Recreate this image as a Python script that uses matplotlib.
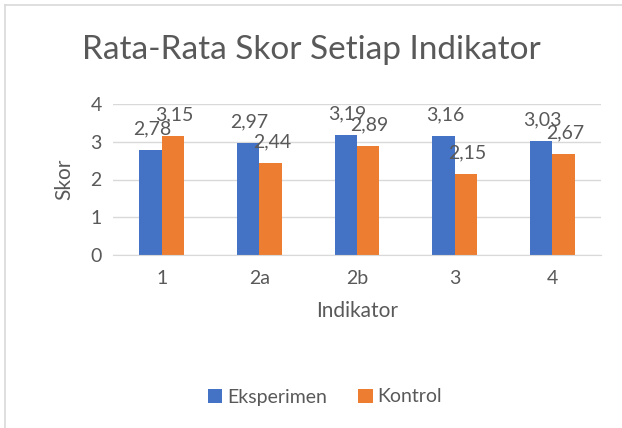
import numpy as np
import matplotlib.pyplot as plt

categories = ['1', '2a', '2b', '3', '4']
eksperimen = [2.78, 2.97, 3.19, 3.16, 3.03]
kontrol = [3.15, 2.44, 2.89, 2.15, 2.67]

BLUE = '#4472C4'
ORANGE = '#ED7D31'
GRAY = '#595959'


def main():
    plt.rcParams['font.family'] = ['Lato', 'DejaVu Sans']
    fig = plt.figure(figsize=(6.22, 4.28), dpi=100)
    ax = fig.add_axes([113 / 622, 1 - 255 / 428, 488 / 622, 151 / 428])

    x = np.arange(len(categories))
    w = 0.23
    b1 = ax.bar(x - w / 2, eksperimen, w, color=BLUE, label='Eksperimen')
    b2 = ax.bar(x + w / 2, kontrol, w, color=ORANGE, label='Kontrol')

    for bars in (b1, b2):
        for r in bars:
            v = r.get_height()
            ax.annotate(f'{v:.2f}'.replace('.', ','),
                        (r.get_x() + r.get_width() / 2, v),
                        xytext=(1, 9), textcoords='offset points',
                        ha='center', va='bottom', fontsize=14, color=GRAY)

    ax.set_xlim(-0.5, len(categories) - 0.5)
    ax.set_ylim(0, 4)
    ax.set_yticks([0, 1, 2, 3, 4])
    ax.set_xticks(x)
    ax.set_xticklabels(categories)
    ax.yaxis.grid(True, color='#D9D9D9', linewidth=1)
    ax.set_axisbelow(True)
    for s in ('top', 'right', 'left'):
        ax.spines[s].set_visible(False)
    ax.spines['bottom'].set_color('#D9D9D9')
    ax.tick_params(length=0, labelsize=14, labelcolor=GRAY, pad=8)
    ax.tick_params(axis='x', pad=11)

    ax.set_xlabel('Indikator', fontsize=15, color=GRAY, labelpad=10)
    ax.set_ylabel('Skor', fontsize=15, color=GRAY, labelpad=12)
    fig.text(0.5, 1 - 50 / 428, 'Rata-Rata Skor Setiap Indikator',
             ha='center', va='center', fontsize=24, color=GRAY)

    fig.legend(handles=[b1, b2], loc='center', bbox_to_anchor=(325 / 622, 1 - 397 / 428),
               ncol=2, frameon=False, fontsize=14, labelcolor=GRAY,
               handlelength=0.75, handleheight=0.75, columnspacing=1.6, handletextpad=0.25)

    # chart area border (only top/left visible in crop)
    fig.add_artist(plt.Line2D([5 / 622, 5 / 622], [0, 1 - 5 / 428], color='#D9D9D9',
                              linewidth=1.2, transform=fig.transFigure))
    fig.add_artist(plt.Line2D([5 / 622, 1], [1 - 5 / 428, 1 - 5 / 428], color='#D9D9D9',
                              linewidth=1.2, transform=fig.transFigure))

    fig.savefig('out.png', dpi=100)


if __name__ == '__main__':
    main()
